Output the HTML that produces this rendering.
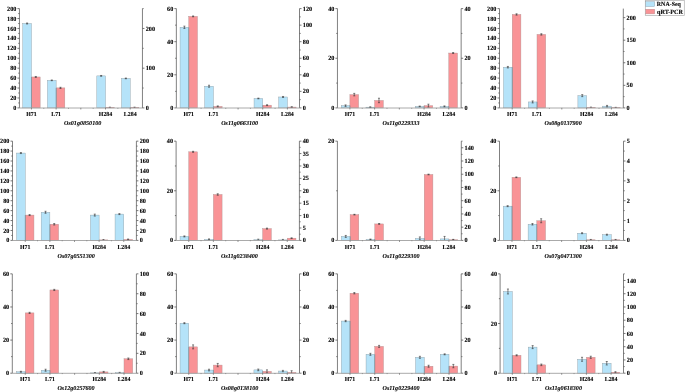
<!DOCTYPE html>
<html><head><meta charset="utf-8"><style>
html,body{margin:0;padding:0;background:#fff;}
body{width:685px;height:392px;overflow:hidden;}
svg{display:block;will-change:transform;}
text{font-family:"Liberation Serif",serif;font-weight:bold;text-rendering:geometricPrecision;}
.t{fill:#000;stroke:#000;stroke-width:0.1px;}
.g{font-style:italic;fill:#000;stroke:#000;stroke-width:0.09px;}
.lg{fill:#000;stroke:#000;stroke-width:0.1px;}
</style></head><body>
<svg width="685" height="392" viewBox="0 0 685 392">
<rect width="685" height="392" fill="#fff"/>

<rect x="31.45" y="76.96" width="8.70" height="30.94" fill="#f99396" stroke="#b09090" stroke-width="0.4"/>
<rect x="22.75" y="23.50" width="8.70" height="84.41" fill="#b5e3f9" stroke="#8a9aa2" stroke-width="0.4"/>
<path d="M31.45 76.96V107.90" stroke="#6a7880" stroke-width="0.5"/>
<rect x="56.14" y="87.88" width="8.70" height="20.02" fill="#f99396" stroke="#b09090" stroke-width="0.4"/>
<rect x="47.44" y="80.34" width="8.70" height="27.56" fill="#b5e3f9" stroke="#8a9aa2" stroke-width="0.4"/>
<path d="M56.14 87.88V107.90" stroke="#6a7880" stroke-width="0.5"/>
<rect x="105.51" y="107.50" width="8.70" height="0.40" fill="#f99396" stroke="#b09090" stroke-width="0.4"/>
<rect x="96.81" y="75.88" width="8.70" height="32.02" fill="#b5e3f9" stroke="#8a9aa2" stroke-width="0.4"/>
<path d="M105.51 107.50V107.90" stroke="#6a7880" stroke-width="0.5"/>
<rect x="130.20" y="107.50" width="8.70" height="0.40" fill="#f99396" stroke="#b09090" stroke-width="0.4"/>
<rect x="121.50" y="78.41" width="8.70" height="29.49" fill="#b5e3f9" stroke="#8a9aa2" stroke-width="0.4"/>
<path d="M130.20 107.50V107.90" stroke="#6a7880" stroke-width="0.5"/>
<path d="M26.10 23.00H28.10M26.10 23.99H28.10M27.10 23.00V23.99" stroke="#333" stroke-width="0.6" fill="none"/>
<path d="M34.80 76.48H36.80M34.80 77.43H36.80M35.80 76.48V77.43" stroke="#333" stroke-width="0.6" fill="none"/>
<path d="M50.79 79.99H52.79M50.79 80.69H52.79M51.79 79.99V80.69" stroke="#333" stroke-width="0.6" fill="none"/>
<path d="M59.49 87.29H61.49M59.49 88.48H61.49M60.49 87.29V88.48" stroke="#333" stroke-width="0.6" fill="none"/>
<path d="M100.16 75.48H102.16M100.16 76.27H102.16M101.16 75.48V76.27" stroke="#333" stroke-width="0.6" fill="none"/>
<path d="M108.86 107.15H110.86M109.86 107.15V107.90" stroke="#333" stroke-width="0.6" fill="none"/>
<path d="M124.85 78.06H126.85M124.85 78.76H126.85M125.85 78.06V78.76" stroke="#333" stroke-width="0.6" fill="none"/>
<path d="M133.55 107.15H135.55M134.55 107.15V107.90" stroke="#333" stroke-width="0.6" fill="none"/>
<path d="M19.45 8.60V107.90" stroke="#555" stroke-width="0.75" fill="none"/>
<path d="M142.45 8.60V107.90" stroke="#555" stroke-width="0.75" fill="none"/>
<path d="M19.45 108.00H142.45" stroke="#a0a0a0" stroke-width="0.9" fill="none"/>
<path d="M17.45 107.90H19.45" stroke="#555" stroke-width="0.8"/>
<text class="t" transform="translate(16.35 109.95) scale(1 1.04)" font-size="6.2" text-anchor="end">0</text>
<path d="M18.25 102.94H19.45" stroke="#555" stroke-width="0.8"/>
<path d="M17.45 97.97H19.45" stroke="#555" stroke-width="0.8"/>
<text class="t" transform="translate(16.35 100.02) scale(1 1.04)" font-size="6.2" text-anchor="end">20</text>
<path d="M18.25 93.01H19.45" stroke="#555" stroke-width="0.8"/>
<path d="M17.45 88.04H19.45" stroke="#555" stroke-width="0.8"/>
<text class="t" transform="translate(16.35 90.09) scale(1 1.04)" font-size="6.2" text-anchor="end">40</text>
<path d="M18.25 83.08H19.45" stroke="#555" stroke-width="0.8"/>
<path d="M17.45 78.11H19.45" stroke="#555" stroke-width="0.8"/>
<text class="t" transform="translate(16.35 80.16) scale(1 1.04)" font-size="6.2" text-anchor="end">60</text>
<path d="M18.25 73.15H19.45" stroke="#555" stroke-width="0.8"/>
<path d="M17.45 68.18H19.45" stroke="#555" stroke-width="0.8"/>
<text class="t" transform="translate(16.35 70.23) scale(1 1.04)" font-size="6.2" text-anchor="end">80</text>
<path d="M18.25 63.21H19.45" stroke="#555" stroke-width="0.8"/>
<path d="M17.45 58.25H19.45" stroke="#555" stroke-width="0.8"/>
<text class="t" transform="translate(16.35 60.30) scale(1 1.04)" font-size="6.2" text-anchor="end">100</text>
<path d="M18.25 53.28H19.45" stroke="#555" stroke-width="0.8"/>
<path d="M17.45 48.32H19.45" stroke="#555" stroke-width="0.8"/>
<text class="t" transform="translate(16.35 50.37) scale(1 1.04)" font-size="6.2" text-anchor="end">120</text>
<path d="M18.25 43.35H19.45" stroke="#555" stroke-width="0.8"/>
<path d="M17.45 38.39H19.45" stroke="#555" stroke-width="0.8"/>
<text class="t" transform="translate(16.35 40.44) scale(1 1.04)" font-size="6.2" text-anchor="end">140</text>
<path d="M18.25 33.42H19.45" stroke="#555" stroke-width="0.8"/>
<path d="M17.45 28.46H19.45" stroke="#555" stroke-width="0.8"/>
<text class="t" transform="translate(16.35 30.51) scale(1 1.04)" font-size="6.2" text-anchor="end">160</text>
<path d="M18.25 23.50H19.45" stroke="#555" stroke-width="0.8"/>
<path d="M17.45 18.53H19.45" stroke="#555" stroke-width="0.8"/>
<text class="t" transform="translate(16.35 20.58) scale(1 1.04)" font-size="6.2" text-anchor="end">180</text>
<path d="M18.25 13.56H19.45" stroke="#555" stroke-width="0.8"/>
<path d="M17.45 8.60H19.45" stroke="#555" stroke-width="0.8"/>
<text class="t" transform="translate(16.35 10.65) scale(1 1.04)" font-size="6.2" text-anchor="end">200</text>
<path d="M142.45 107.90H144.45" stroke="#555" stroke-width="0.8"/>
<text class="t" transform="translate(145.75 109.95) scale(1 1.04)" font-size="6.2">0</text>
<path d="M142.45 88.04H143.65" stroke="#555" stroke-width="0.8"/>
<path d="M142.45 68.18H144.45" stroke="#555" stroke-width="0.8"/>
<text class="t" transform="translate(145.75 70.23) scale(1 1.04)" font-size="6.2">100</text>
<path d="M142.45 48.32H143.65" stroke="#555" stroke-width="0.8"/>
<path d="M142.45 28.46H144.45" stroke="#555" stroke-width="0.8"/>
<text class="t" transform="translate(145.75 30.51) scale(1 1.04)" font-size="6.2">200</text>
<path d="M142.45 8.60H143.65" stroke="#555" stroke-width="0.8"/>
<path d="M31.45 107.90V109.50" stroke="#555" stroke-width="0.6"/>
<path d="M56.14 107.90V109.50" stroke="#555" stroke-width="0.6"/>
<path d="M80.82 107.90V109.50" stroke="#555" stroke-width="0.6"/>
<path d="M105.51 107.90V109.50" stroke="#555" stroke-width="0.6"/>
<path d="M130.20 107.90V109.50" stroke="#555" stroke-width="0.6"/>
<path d="M43.79 107.90V108.80" stroke="#555" stroke-width="0.5"/>
<path d="M68.48 107.90V108.80" stroke="#555" stroke-width="0.5"/>
<path d="M93.17 107.90V108.80" stroke="#555" stroke-width="0.5"/>
<path d="M117.86 107.90V108.80" stroke="#555" stroke-width="0.5"/>
<text class="t" transform="translate(31.45 116.10) scale(1 1.04)" font-size="5.9" text-anchor="middle">H71</text>
<text class="t" transform="translate(56.14 116.10) scale(1 1.04)" font-size="5.9" text-anchor="middle">L71</text>
<text class="t" transform="translate(105.51 116.10) scale(1 1.04)" font-size="5.9" text-anchor="middle">H284</text>
<text class="t" transform="translate(130.20 116.10) scale(1 1.04)" font-size="5.9" text-anchor="middle">L284</text>
<text class="g" transform="translate(82.65 125.10) scale(1 1.0)" font-size="6.1" text-anchor="middle">Os01g0850100</text>
<rect x="188.75" y="16.38" width="8.70" height="91.52" fill="#f99396" stroke="#b09090" stroke-width="0.4"/>
<rect x="180.05" y="27.30" width="8.70" height="80.60" fill="#b5e3f9" stroke="#8a9aa2" stroke-width="0.4"/>
<path d="M188.75 27.30V107.90" stroke="#6a7880" stroke-width="0.5"/>
<rect x="213.41" y="106.41" width="8.70" height="1.49" fill="#f99396" stroke="#b09090" stroke-width="0.4"/>
<rect x="204.71" y="86.22" width="8.70" height="21.68" fill="#b5e3f9" stroke="#8a9aa2" stroke-width="0.4"/>
<path d="M213.41 106.41V107.90" stroke="#6a7880" stroke-width="0.5"/>
<rect x="262.74" y="105.17" width="8.70" height="2.73" fill="#f99396" stroke="#b09090" stroke-width="0.4"/>
<rect x="254.04" y="98.47" width="8.70" height="9.43" fill="#b5e3f9" stroke="#8a9aa2" stroke-width="0.4"/>
<path d="M262.74 105.17V107.90" stroke="#6a7880" stroke-width="0.5"/>
<rect x="287.40" y="107.07" width="8.70" height="0.83" fill="#f99396" stroke="#b09090" stroke-width="0.4"/>
<rect x="278.70" y="96.98" width="8.70" height="10.92" fill="#b5e3f9" stroke="#8a9aa2" stroke-width="0.4"/>
<path d="M287.40 107.07V107.90" stroke="#6a7880" stroke-width="0.5"/>
<path d="M183.40 26.14H185.40M183.40 28.46H185.40M184.40 26.14V28.46" stroke="#333" stroke-width="0.6" fill="none"/>
<path d="M192.10 15.96H194.10M192.10 16.79H194.10M193.10 15.96V16.79" stroke="#333" stroke-width="0.6" fill="none"/>
<path d="M208.06 85.23H210.06M208.06 87.21H210.06M209.06 85.23V87.21" stroke="#333" stroke-width="0.6" fill="none"/>
<path d="M216.76 105.91H218.76M216.76 106.91H218.76M217.76 105.91V106.91" stroke="#333" stroke-width="0.6" fill="none"/>
<path d="M257.39 98.12H259.39M257.39 98.82H259.39M258.39 98.12V98.82" stroke="#333" stroke-width="0.6" fill="none"/>
<path d="M266.09 104.76H268.09M266.09 105.58H268.09M267.09 104.76V105.58" stroke="#333" stroke-width="0.6" fill="none"/>
<path d="M282.05 96.48H284.05M282.05 97.47H284.05M283.05 96.48V97.47" stroke="#333" stroke-width="0.6" fill="none"/>
<path d="M290.75 106.72H292.75M290.75 107.42H292.75M291.75 106.72V107.42" stroke="#333" stroke-width="0.6" fill="none"/>
<path d="M176.35 8.60V107.90" stroke="#555" stroke-width="0.75" fill="none"/>
<path d="M299.50 8.60V107.90" stroke="#555" stroke-width="0.75" fill="none"/>
<path d="M176.35 108.00H299.50" stroke="#a0a0a0" stroke-width="0.9" fill="none"/>
<path d="M174.35 107.90H176.35" stroke="#555" stroke-width="0.8"/>
<text class="t" transform="translate(173.25 109.95) scale(1 1.04)" font-size="6.2" text-anchor="end">0</text>
<path d="M175.15 91.35H176.35" stroke="#555" stroke-width="0.8"/>
<path d="M174.35 74.80H176.35" stroke="#555" stroke-width="0.8"/>
<text class="t" transform="translate(173.25 76.85) scale(1 1.04)" font-size="6.2" text-anchor="end">20</text>
<path d="M175.15 58.25H176.35" stroke="#555" stroke-width="0.8"/>
<path d="M174.35 41.70H176.35" stroke="#555" stroke-width="0.8"/>
<text class="t" transform="translate(173.25 43.75) scale(1 1.04)" font-size="6.2" text-anchor="end">40</text>
<path d="M175.15 25.15H176.35" stroke="#555" stroke-width="0.8"/>
<path d="M174.35 8.60H176.35" stroke="#555" stroke-width="0.8"/>
<text class="t" transform="translate(173.25 10.65) scale(1 1.04)" font-size="6.2" text-anchor="end">60</text>
<path d="M299.50 107.90H301.50" stroke="#555" stroke-width="0.8"/>
<text class="t" transform="translate(302.80 109.95) scale(1 1.04)" font-size="6.2">0</text>
<path d="M299.50 99.62H300.70" stroke="#555" stroke-width="0.8"/>
<path d="M299.50 91.35H301.50" stroke="#555" stroke-width="0.8"/>
<text class="t" transform="translate(302.80 93.40) scale(1 1.04)" font-size="6.2">20</text>
<path d="M299.50 83.08H300.70" stroke="#555" stroke-width="0.8"/>
<path d="M299.50 74.80H301.50" stroke="#555" stroke-width="0.8"/>
<text class="t" transform="translate(302.80 76.85) scale(1 1.04)" font-size="6.2">40</text>
<path d="M299.50 66.53H300.70" stroke="#555" stroke-width="0.8"/>
<path d="M299.50 58.25H301.50" stroke="#555" stroke-width="0.8"/>
<text class="t" transform="translate(302.80 60.30) scale(1 1.04)" font-size="6.2">60</text>
<path d="M299.50 49.97H300.70" stroke="#555" stroke-width="0.8"/>
<path d="M299.50 41.70H301.50" stroke="#555" stroke-width="0.8"/>
<text class="t" transform="translate(302.80 43.75) scale(1 1.04)" font-size="6.2">80</text>
<path d="M299.50 33.42H300.70" stroke="#555" stroke-width="0.8"/>
<path d="M299.50 25.15H301.50" stroke="#555" stroke-width="0.8"/>
<text class="t" transform="translate(302.80 27.20) scale(1 1.04)" font-size="6.2">100</text>
<path d="M299.50 16.88H300.70" stroke="#555" stroke-width="0.8"/>
<path d="M299.50 8.60H301.50" stroke="#555" stroke-width="0.8"/>
<text class="t" transform="translate(302.80 10.65) scale(1 1.04)" font-size="6.2">120</text>
<path d="M188.75 107.90V109.50" stroke="#555" stroke-width="0.6"/>
<path d="M213.41 107.90V109.50" stroke="#555" stroke-width="0.6"/>
<path d="M238.07 107.90V109.50" stroke="#555" stroke-width="0.6"/>
<path d="M262.74 107.90V109.50" stroke="#555" stroke-width="0.6"/>
<path d="M287.40 107.90V109.50" stroke="#555" stroke-width="0.6"/>
<path d="M201.08 107.90V108.80" stroke="#555" stroke-width="0.5"/>
<path d="M225.74 107.90V108.80" stroke="#555" stroke-width="0.5"/>
<path d="M250.41 107.90V108.80" stroke="#555" stroke-width="0.5"/>
<path d="M275.07 107.90V108.80" stroke="#555" stroke-width="0.5"/>
<text class="t" transform="translate(188.75 116.10) scale(1 1.04)" font-size="5.9" text-anchor="middle">H71</text>
<text class="t" transform="translate(213.41 116.10) scale(1 1.04)" font-size="5.9" text-anchor="middle">L71</text>
<text class="t" transform="translate(262.74 116.10) scale(1 1.04)" font-size="5.9" text-anchor="middle">H284</text>
<text class="t" transform="translate(287.40 116.10) scale(1 1.04)" font-size="5.9" text-anchor="middle">L284</text>
<text class="g" transform="translate(239.62 125.10) scale(1 1.0)" font-size="6.1" text-anchor="middle">Os11g0663100</text>
<rect x="349.90" y="94.62" width="8.70" height="13.28" fill="#f99396" stroke="#b09090" stroke-width="0.4"/>
<rect x="341.20" y="105.67" width="8.70" height="2.23" fill="#b5e3f9" stroke="#8a9aa2" stroke-width="0.4"/>
<path d="M349.90 105.67V107.90" stroke="#6a7880" stroke-width="0.5"/>
<rect x="374.62" y="100.45" width="8.70" height="7.45" fill="#f99396" stroke="#b09090" stroke-width="0.4"/>
<rect x="365.93" y="107.16" width="8.70" height="0.74" fill="#b5e3f9" stroke="#8a9aa2" stroke-width="0.4"/>
<path d="M374.62 107.16V107.90" stroke="#6a7880" stroke-width="0.5"/>
<rect x="424.07" y="105.67" width="8.70" height="2.23" fill="#f99396" stroke="#b09090" stroke-width="0.4"/>
<rect x="415.38" y="106.41" width="8.70" height="1.49" fill="#b5e3f9" stroke="#8a9aa2" stroke-width="0.4"/>
<path d="M424.07 106.41V107.90" stroke="#6a7880" stroke-width="0.5"/>
<rect x="448.80" y="53.04" width="8.70" height="54.86" fill="#f99396" stroke="#b09090" stroke-width="0.4"/>
<rect x="440.10" y="106.41" width="8.70" height="1.49" fill="#b5e3f9" stroke="#8a9aa2" stroke-width="0.4"/>
<path d="M448.80 106.41V107.90" stroke="#6a7880" stroke-width="0.5"/>
<path d="M344.55 104.92H346.55M344.55 106.41H346.55M345.55 104.92V106.41" stroke="#333" stroke-width="0.6" fill="none"/>
<path d="M353.25 93.38H355.25M353.25 95.86H355.25M354.25 93.38V95.86" stroke="#333" stroke-width="0.6" fill="none"/>
<path d="M369.27 106.81H371.27M369.27 107.51H371.27M370.27 106.81V107.51" stroke="#333" stroke-width="0.6" fill="none"/>
<path d="M377.98 98.22H379.98M377.98 102.69H379.98M378.98 98.22V102.69" stroke="#333" stroke-width="0.6" fill="none"/>
<path d="M418.72 106.06H420.72M418.72 106.76H420.72M419.72 106.06V106.76" stroke="#333" stroke-width="0.6" fill="none"/>
<path d="M427.43 104.18H429.43M427.43 107.16H429.43M428.43 104.18V107.16" stroke="#333" stroke-width="0.6" fill="none"/>
<path d="M443.45 105.91H445.45M443.45 106.91H445.45M444.45 105.91V106.91" stroke="#333" stroke-width="0.6" fill="none"/>
<path d="M452.15 52.54H454.15M452.15 53.53H454.15M453.15 52.54V53.53" stroke="#333" stroke-width="0.6" fill="none"/>
<path d="M337.45 8.60V107.90" stroke="#555" stroke-width="0.75" fill="none"/>
<path d="M461.15 8.60V107.90" stroke="#555" stroke-width="0.75" fill="none"/>
<path d="M337.45 108.00H461.15" stroke="#a0a0a0" stroke-width="0.9" fill="none"/>
<path d="M335.45 107.90H337.45" stroke="#555" stroke-width="0.8"/>
<text class="t" transform="translate(334.35 109.95) scale(1 1.04)" font-size="6.2" text-anchor="end">0</text>
<path d="M336.25 83.08H337.45" stroke="#555" stroke-width="0.8"/>
<path d="M335.45 58.25H337.45" stroke="#555" stroke-width="0.8"/>
<text class="t" transform="translate(334.35 60.30) scale(1 1.04)" font-size="6.2" text-anchor="end">20</text>
<path d="M336.25 33.42H337.45" stroke="#555" stroke-width="0.8"/>
<path d="M335.45 8.60H337.45" stroke="#555" stroke-width="0.8"/>
<text class="t" transform="translate(334.35 10.65) scale(1 1.04)" font-size="6.2" text-anchor="end">40</text>
<path d="M461.15 107.90H463.15" stroke="#555" stroke-width="0.8"/>
<text class="t" transform="translate(464.45 109.95) scale(1 1.04)" font-size="6.2">0</text>
<path d="M461.15 83.08H462.35" stroke="#555" stroke-width="0.8"/>
<path d="M461.15 58.25H463.15" stroke="#555" stroke-width="0.8"/>
<text class="t" transform="translate(464.45 60.30) scale(1 1.04)" font-size="6.2">20</text>
<path d="M461.15 33.42H462.35" stroke="#555" stroke-width="0.8"/>
<path d="M461.15 8.60H463.15" stroke="#555" stroke-width="0.8"/>
<text class="t" transform="translate(464.45 10.65) scale(1 1.04)" font-size="6.2">40</text>
<path d="M349.90 107.90V109.50" stroke="#555" stroke-width="0.6"/>
<path d="M374.62 107.90V109.50" stroke="#555" stroke-width="0.6"/>
<path d="M399.35 107.90V109.50" stroke="#555" stroke-width="0.6"/>
<path d="M424.07 107.90V109.50" stroke="#555" stroke-width="0.6"/>
<path d="M448.80 107.90V109.50" stroke="#555" stroke-width="0.6"/>
<path d="M362.26 107.90V108.80" stroke="#555" stroke-width="0.5"/>
<path d="M386.99 107.90V108.80" stroke="#555" stroke-width="0.5"/>
<path d="M411.71 107.90V108.80" stroke="#555" stroke-width="0.5"/>
<path d="M436.44 107.90V108.80" stroke="#555" stroke-width="0.5"/>
<text class="t" transform="translate(349.90 116.10) scale(1 1.04)" font-size="5.9" text-anchor="middle">H71</text>
<text class="t" transform="translate(374.62 116.10) scale(1 1.04)" font-size="5.9" text-anchor="middle">L71</text>
<text class="t" transform="translate(424.07 116.10) scale(1 1.04)" font-size="5.9" text-anchor="middle">H284</text>
<text class="t" transform="translate(448.80 116.10) scale(1 1.04)" font-size="5.9" text-anchor="middle">L284</text>
<text class="g" transform="translate(401.00 125.10) scale(1 1.0)" font-size="6.1" text-anchor="middle">Os11g0229333</text>
<rect x="512.20" y="14.47" width="8.70" height="93.43" fill="#f99396" stroke="#b09090" stroke-width="0.4"/>
<rect x="503.50" y="67.19" width="8.70" height="40.71" fill="#b5e3f9" stroke="#8a9aa2" stroke-width="0.4"/>
<path d="M512.20 67.19V107.90" stroke="#6a7880" stroke-width="0.5"/>
<rect x="537.00" y="34.42" width="8.70" height="73.48" fill="#f99396" stroke="#b09090" stroke-width="0.4"/>
<rect x="528.30" y="101.94" width="8.70" height="5.96" fill="#b5e3f9" stroke="#8a9aa2" stroke-width="0.4"/>
<path d="M537.00 101.94V107.90" stroke="#6a7880" stroke-width="0.5"/>
<rect x="586.60" y="107.45" width="8.70" height="0.45" fill="#f99396" stroke="#b09090" stroke-width="0.4"/>
<rect x="577.90" y="95.64" width="8.70" height="12.26" fill="#b5e3f9" stroke="#8a9aa2" stroke-width="0.4"/>
<path d="M586.60 107.45V107.90" stroke="#6a7880" stroke-width="0.5"/>
<rect x="611.40" y="107.67" width="8.70" height="0.23" fill="#f99396" stroke="#b09090" stroke-width="0.4"/>
<rect x="602.70" y="106.16" width="8.70" height="1.74" fill="#b5e3f9" stroke="#8a9aa2" stroke-width="0.4"/>
<path d="M611.40 107.67V107.90" stroke="#6a7880" stroke-width="0.5"/>
<path d="M506.85 66.44H508.85M506.85 67.93H508.85M507.85 66.44V67.93" stroke="#333" stroke-width="0.6" fill="none"/>
<path d="M515.55 13.79H517.55M515.55 15.14H517.55M516.55 13.79V15.14" stroke="#333" stroke-width="0.6" fill="none"/>
<path d="M531.65 100.95H533.65M531.65 102.94H533.65M532.65 100.95V102.94" stroke="#333" stroke-width="0.6" fill="none"/>
<path d="M540.35 33.74H542.35M540.35 35.10H542.35M541.35 33.74V35.10" stroke="#333" stroke-width="0.6" fill="none"/>
<path d="M581.25 94.64H583.25M581.25 96.63H583.25M582.25 94.64V96.63" stroke="#333" stroke-width="0.6" fill="none"/>
<path d="M589.95 107.10H591.95M590.95 107.10V107.90" stroke="#333" stroke-width="0.6" fill="none"/>
<path d="M606.05 105.42H608.05M606.05 106.91H608.05M607.05 105.42V106.91" stroke="#333" stroke-width="0.6" fill="none"/>
<path d="M614.75 107.32H616.75M615.75 107.32V107.90" stroke="#333" stroke-width="0.6" fill="none"/>
<path d="M499.50 8.60V107.90" stroke="#555" stroke-width="0.75" fill="none"/>
<path d="M623.30 8.60V107.90" stroke="#555" stroke-width="0.75" fill="none"/>
<path d="M499.50 108.00H623.30" stroke="#a0a0a0" stroke-width="0.9" fill="none"/>
<path d="M497.50 107.90H499.50" stroke="#555" stroke-width="0.8"/>
<text class="t" transform="translate(496.40 109.95) scale(1 1.04)" font-size="6.2" text-anchor="end">0</text>
<path d="M498.30 102.94H499.50" stroke="#555" stroke-width="0.8"/>
<path d="M497.50 97.97H499.50" stroke="#555" stroke-width="0.8"/>
<text class="t" transform="translate(496.40 100.02) scale(1 1.04)" font-size="6.2" text-anchor="end">20</text>
<path d="M498.30 93.01H499.50" stroke="#555" stroke-width="0.8"/>
<path d="M497.50 88.04H499.50" stroke="#555" stroke-width="0.8"/>
<text class="t" transform="translate(496.40 90.09) scale(1 1.04)" font-size="6.2" text-anchor="end">40</text>
<path d="M498.30 83.08H499.50" stroke="#555" stroke-width="0.8"/>
<path d="M497.50 78.11H499.50" stroke="#555" stroke-width="0.8"/>
<text class="t" transform="translate(496.40 80.16) scale(1 1.04)" font-size="6.2" text-anchor="end">60</text>
<path d="M498.30 73.15H499.50" stroke="#555" stroke-width="0.8"/>
<path d="M497.50 68.18H499.50" stroke="#555" stroke-width="0.8"/>
<text class="t" transform="translate(496.40 70.23) scale(1 1.04)" font-size="6.2" text-anchor="end">80</text>
<path d="M498.30 63.21H499.50" stroke="#555" stroke-width="0.8"/>
<path d="M497.50 58.25H499.50" stroke="#555" stroke-width="0.8"/>
<text class="t" transform="translate(496.40 60.30) scale(1 1.04)" font-size="6.2" text-anchor="end">100</text>
<path d="M498.30 53.28H499.50" stroke="#555" stroke-width="0.8"/>
<path d="M497.50 48.32H499.50" stroke="#555" stroke-width="0.8"/>
<text class="t" transform="translate(496.40 50.37) scale(1 1.04)" font-size="6.2" text-anchor="end">120</text>
<path d="M498.30 43.35H499.50" stroke="#555" stroke-width="0.8"/>
<path d="M497.50 38.39H499.50" stroke="#555" stroke-width="0.8"/>
<text class="t" transform="translate(496.40 40.44) scale(1 1.04)" font-size="6.2" text-anchor="end">140</text>
<path d="M498.30 33.42H499.50" stroke="#555" stroke-width="0.8"/>
<path d="M497.50 28.46H499.50" stroke="#555" stroke-width="0.8"/>
<text class="t" transform="translate(496.40 30.51) scale(1 1.04)" font-size="6.2" text-anchor="end">160</text>
<path d="M498.30 23.50H499.50" stroke="#555" stroke-width="0.8"/>
<path d="M497.50 18.53H499.50" stroke="#555" stroke-width="0.8"/>
<text class="t" transform="translate(496.40 20.58) scale(1 1.04)" font-size="6.2" text-anchor="end">180</text>
<path d="M498.30 13.56H499.50" stroke="#555" stroke-width="0.8"/>
<path d="M497.50 8.60H499.50" stroke="#555" stroke-width="0.8"/>
<text class="t" transform="translate(496.40 10.65) scale(1 1.04)" font-size="6.2" text-anchor="end">200</text>
<path d="M623.30 107.90H625.30" stroke="#555" stroke-width="0.8"/>
<text class="t" transform="translate(626.60 109.95) scale(1 1.04)" font-size="6.2">0</text>
<path d="M623.30 96.62H624.50" stroke="#555" stroke-width="0.8"/>
<path d="M623.30 85.33H625.30" stroke="#555" stroke-width="0.8"/>
<text class="t" transform="translate(626.60 87.38) scale(1 1.04)" font-size="6.2">50</text>
<path d="M623.30 74.05H624.50" stroke="#555" stroke-width="0.8"/>
<path d="M623.30 62.76H625.30" stroke="#555" stroke-width="0.8"/>
<text class="t" transform="translate(626.60 64.81) scale(1 1.04)" font-size="6.2">100</text>
<path d="M623.30 51.48H624.50" stroke="#555" stroke-width="0.8"/>
<path d="M623.30 40.20H625.30" stroke="#555" stroke-width="0.8"/>
<text class="t" transform="translate(626.60 42.25) scale(1 1.04)" font-size="6.2">150</text>
<path d="M623.30 28.91H624.50" stroke="#555" stroke-width="0.8"/>
<path d="M623.30 17.63H625.30" stroke="#555" stroke-width="0.8"/>
<text class="t" transform="translate(626.60 19.68) scale(1 1.04)" font-size="6.2">200</text>
<path d="M512.20 107.90V109.50" stroke="#555" stroke-width="0.6"/>
<path d="M537.00 107.90V109.50" stroke="#555" stroke-width="0.6"/>
<path d="M561.80 107.90V109.50" stroke="#555" stroke-width="0.6"/>
<path d="M586.60 107.90V109.50" stroke="#555" stroke-width="0.6"/>
<path d="M611.40 107.90V109.50" stroke="#555" stroke-width="0.6"/>
<path d="M524.60 107.90V108.80" stroke="#555" stroke-width="0.5"/>
<path d="M549.40 107.90V108.80" stroke="#555" stroke-width="0.5"/>
<path d="M574.20 107.90V108.80" stroke="#555" stroke-width="0.5"/>
<path d="M599.00 107.90V108.80" stroke="#555" stroke-width="0.5"/>
<text class="t" transform="translate(512.20 116.10) scale(1 1.04)" font-size="5.9" text-anchor="middle">H71</text>
<text class="t" transform="translate(537.00 116.10) scale(1 1.04)" font-size="5.9" text-anchor="middle">L71</text>
<text class="t" transform="translate(586.60 116.10) scale(1 1.04)" font-size="5.9" text-anchor="middle">H284</text>
<text class="t" transform="translate(611.40 116.10) scale(1 1.04)" font-size="5.9" text-anchor="middle">L284</text>
<text class="g" transform="translate(563.10 125.10) scale(1 1.0)" font-size="6.1" text-anchor="middle">Os08g0137900</text>
<rect x="25.25" y="215.09" width="8.70" height="25.31" fill="#f99396" stroke="#b09090" stroke-width="0.4"/>
<rect x="16.55" y="153.06" width="8.70" height="87.34" fill="#b5e3f9" stroke="#8a9aa2" stroke-width="0.4"/>
<path d="M25.25 215.09V240.40" stroke="#6a7880" stroke-width="0.5"/>
<rect x="49.88" y="224.27" width="8.70" height="16.13" fill="#f99396" stroke="#b09090" stroke-width="0.4"/>
<rect x="41.17" y="212.26" width="8.70" height="28.14" fill="#b5e3f9" stroke="#8a9aa2" stroke-width="0.4"/>
<path d="M49.88 224.27V240.40" stroke="#6a7880" stroke-width="0.5"/>
<rect x="99.12" y="239.90" width="8.70" height="0.50" fill="#f99396" stroke="#b09090" stroke-width="0.4"/>
<rect x="90.42" y="215.09" width="8.70" height="25.31" fill="#b5e3f9" stroke="#8a9aa2" stroke-width="0.4"/>
<path d="M99.12 239.90V240.40" stroke="#6a7880" stroke-width="0.5"/>
<rect x="123.75" y="239.41" width="8.70" height="0.99" fill="#f99396" stroke="#b09090" stroke-width="0.4"/>
<rect x="115.05" y="214.10" width="8.70" height="26.30" fill="#b5e3f9" stroke="#8a9aa2" stroke-width="0.4"/>
<path d="M123.75 239.41V240.40" stroke="#6a7880" stroke-width="0.5"/>
<path d="M19.90 152.56H21.90M19.90 153.56H21.90M20.90 152.56V153.56" stroke="#333" stroke-width="0.6" fill="none"/>
<path d="M28.60 214.59H30.60M28.60 215.59H30.60M29.60 214.59V215.59" stroke="#333" stroke-width="0.6" fill="none"/>
<path d="M44.52 211.27H46.52M44.52 213.26H46.52M45.52 211.27V213.26" stroke="#333" stroke-width="0.6" fill="none"/>
<path d="M53.23 223.53H55.23M53.23 225.02H55.23M54.23 223.53V225.02" stroke="#333" stroke-width="0.6" fill="none"/>
<path d="M93.78 214.10H95.78M93.78 216.08H95.78M94.78 214.10V216.08" stroke="#333" stroke-width="0.6" fill="none"/>
<path d="M102.47 239.55H104.47M103.47 239.55V240.40" stroke="#333" stroke-width="0.6" fill="none"/>
<path d="M118.40 213.60H120.40M118.40 214.59H120.40M119.40 213.60V214.59" stroke="#333" stroke-width="0.6" fill="none"/>
<path d="M127.10 239.01H129.10M127.10 239.80H129.10M128.10 239.01V239.80" stroke="#333" stroke-width="0.6" fill="none"/>
<path d="M12.50 141.15V240.40" stroke="#555" stroke-width="0.75" fill="none"/>
<path d="M136.40 141.15V240.40" stroke="#555" stroke-width="0.75" fill="none"/>
<path d="M12.50 240.50H136.40" stroke="#a0a0a0" stroke-width="0.9" fill="none"/>
<path d="M10.50 240.40H12.50" stroke="#555" stroke-width="0.8"/>
<text class="t" transform="translate(9.40 242.45) scale(1 1.04)" font-size="6.2" text-anchor="end">0</text>
<path d="M11.30 235.44H12.50" stroke="#555" stroke-width="0.8"/>
<path d="M10.50 230.47H12.50" stroke="#555" stroke-width="0.8"/>
<text class="t" transform="translate(9.40 232.53) scale(1 1.04)" font-size="6.2" text-anchor="end">20</text>
<path d="M11.30 225.51H12.50" stroke="#555" stroke-width="0.8"/>
<path d="M10.50 220.55H12.50" stroke="#555" stroke-width="0.8"/>
<text class="t" transform="translate(9.40 222.60) scale(1 1.04)" font-size="6.2" text-anchor="end">40</text>
<path d="M11.30 215.59H12.50" stroke="#555" stroke-width="0.8"/>
<path d="M10.50 210.62H12.50" stroke="#555" stroke-width="0.8"/>
<text class="t" transform="translate(9.40 212.68) scale(1 1.04)" font-size="6.2" text-anchor="end">60</text>
<path d="M11.30 205.66H12.50" stroke="#555" stroke-width="0.8"/>
<path d="M10.50 200.70H12.50" stroke="#555" stroke-width="0.8"/>
<text class="t" transform="translate(9.40 202.75) scale(1 1.04)" font-size="6.2" text-anchor="end">80</text>
<path d="M11.30 195.74H12.50" stroke="#555" stroke-width="0.8"/>
<path d="M10.50 190.78H12.50" stroke="#555" stroke-width="0.8"/>
<text class="t" transform="translate(9.40 192.83) scale(1 1.04)" font-size="6.2" text-anchor="end">100</text>
<path d="M11.30 185.81H12.50" stroke="#555" stroke-width="0.8"/>
<path d="M10.50 180.85H12.50" stroke="#555" stroke-width="0.8"/>
<text class="t" transform="translate(9.40 182.90) scale(1 1.04)" font-size="6.2" text-anchor="end">120</text>
<path d="M11.30 175.89H12.50" stroke="#555" stroke-width="0.8"/>
<path d="M10.50 170.93H12.50" stroke="#555" stroke-width="0.8"/>
<text class="t" transform="translate(9.40 172.98) scale(1 1.04)" font-size="6.2" text-anchor="end">140</text>
<path d="M11.30 165.96H12.50" stroke="#555" stroke-width="0.8"/>
<path d="M10.50 161.00H12.50" stroke="#555" stroke-width="0.8"/>
<text class="t" transform="translate(9.40 163.05) scale(1 1.04)" font-size="6.2" text-anchor="end">160</text>
<path d="M11.30 156.04H12.50" stroke="#555" stroke-width="0.8"/>
<path d="M10.50 151.07H12.50" stroke="#555" stroke-width="0.8"/>
<text class="t" transform="translate(9.40 153.12) scale(1 1.04)" font-size="6.2" text-anchor="end">180</text>
<path d="M11.30 146.11H12.50" stroke="#555" stroke-width="0.8"/>
<path d="M10.50 141.15H12.50" stroke="#555" stroke-width="0.8"/>
<text class="t" transform="translate(9.40 143.20) scale(1 1.04)" font-size="6.2" text-anchor="end">200</text>
<path d="M136.40 240.40H138.40" stroke="#555" stroke-width="0.8"/>
<text class="t" transform="translate(139.70 242.45) scale(1 1.04)" font-size="6.2">0</text>
<path d="M136.40 235.44H137.60" stroke="#555" stroke-width="0.8"/>
<path d="M136.40 230.47H138.40" stroke="#555" stroke-width="0.8"/>
<text class="t" transform="translate(139.70 232.53) scale(1 1.04)" font-size="6.2">20</text>
<path d="M136.40 225.51H137.60" stroke="#555" stroke-width="0.8"/>
<path d="M136.40 220.55H138.40" stroke="#555" stroke-width="0.8"/>
<text class="t" transform="translate(139.70 222.60) scale(1 1.04)" font-size="6.2">40</text>
<path d="M136.40 215.59H137.60" stroke="#555" stroke-width="0.8"/>
<path d="M136.40 210.62H138.40" stroke="#555" stroke-width="0.8"/>
<text class="t" transform="translate(139.70 212.68) scale(1 1.04)" font-size="6.2">60</text>
<path d="M136.40 205.66H137.60" stroke="#555" stroke-width="0.8"/>
<path d="M136.40 200.70H138.40" stroke="#555" stroke-width="0.8"/>
<text class="t" transform="translate(139.70 202.75) scale(1 1.04)" font-size="6.2">80</text>
<path d="M136.40 195.74H137.60" stroke="#555" stroke-width="0.8"/>
<path d="M136.40 190.78H138.40" stroke="#555" stroke-width="0.8"/>
<text class="t" transform="translate(139.70 192.83) scale(1 1.04)" font-size="6.2">100</text>
<path d="M136.40 185.81H137.60" stroke="#555" stroke-width="0.8"/>
<path d="M136.40 180.85H138.40" stroke="#555" stroke-width="0.8"/>
<text class="t" transform="translate(139.70 182.90) scale(1 1.04)" font-size="6.2">120</text>
<path d="M136.40 175.89H137.60" stroke="#555" stroke-width="0.8"/>
<path d="M136.40 170.93H138.40" stroke="#555" stroke-width="0.8"/>
<text class="t" transform="translate(139.70 172.98) scale(1 1.04)" font-size="6.2">140</text>
<path d="M136.40 165.96H137.60" stroke="#555" stroke-width="0.8"/>
<path d="M136.40 161.00H138.40" stroke="#555" stroke-width="0.8"/>
<text class="t" transform="translate(139.70 163.05) scale(1 1.04)" font-size="6.2">160</text>
<path d="M136.40 156.04H137.60" stroke="#555" stroke-width="0.8"/>
<path d="M136.40 151.07H138.40" stroke="#555" stroke-width="0.8"/>
<text class="t" transform="translate(139.70 153.12) scale(1 1.04)" font-size="6.2">180</text>
<path d="M136.40 146.11H137.60" stroke="#555" stroke-width="0.8"/>
<path d="M136.40 141.15H138.40" stroke="#555" stroke-width="0.8"/>
<text class="t" transform="translate(139.70 143.20) scale(1 1.04)" font-size="6.2">200</text>
<path d="M25.25 240.40V242.00" stroke="#555" stroke-width="0.6"/>
<path d="M49.88 240.40V242.00" stroke="#555" stroke-width="0.6"/>
<path d="M74.50 240.40V242.00" stroke="#555" stroke-width="0.6"/>
<path d="M99.12 240.40V242.00" stroke="#555" stroke-width="0.6"/>
<path d="M123.75 240.40V242.00" stroke="#555" stroke-width="0.6"/>
<path d="M37.56 240.40V241.30" stroke="#555" stroke-width="0.5"/>
<path d="M62.19 240.40V241.30" stroke="#555" stroke-width="0.5"/>
<path d="M86.81 240.40V241.30" stroke="#555" stroke-width="0.5"/>
<path d="M111.44 240.40V241.30" stroke="#555" stroke-width="0.5"/>
<text class="t" transform="translate(25.25 248.60) scale(1 1.04)" font-size="5.9" text-anchor="middle">H71</text>
<text class="t" transform="translate(49.88 248.60) scale(1 1.04)" font-size="5.9" text-anchor="middle">L71</text>
<text class="t" transform="translate(99.12 248.60) scale(1 1.04)" font-size="5.9" text-anchor="middle">H284</text>
<text class="t" transform="translate(123.75 248.60) scale(1 1.04)" font-size="5.9" text-anchor="middle">L284</text>
<text class="g" transform="translate(76.15 257.60) scale(1 1.0)" font-size="6.1" text-anchor="middle">Os07g0551300</text>
<rect x="188.75" y="151.82" width="8.70" height="88.58" fill="#f99396" stroke="#b09090" stroke-width="0.4"/>
<rect x="180.05" y="236.43" width="8.70" height="3.97" fill="#b5e3f9" stroke="#8a9aa2" stroke-width="0.4"/>
<path d="M188.75 236.43V240.40" stroke="#6a7880" stroke-width="0.5"/>
<rect x="213.38" y="194.50" width="8.70" height="45.90" fill="#f99396" stroke="#b09090" stroke-width="0.4"/>
<rect x="204.68" y="239.41" width="8.70" height="0.99" fill="#b5e3f9" stroke="#8a9aa2" stroke-width="0.4"/>
<path d="M213.38 239.41V240.40" stroke="#6a7880" stroke-width="0.5"/>
<rect x="262.62" y="228.61" width="8.70" height="11.79" fill="#f99396" stroke="#b09090" stroke-width="0.4"/>
<rect x="253.93" y="239.66" width="8.70" height="0.74" fill="#b5e3f9" stroke="#8a9aa2" stroke-width="0.4"/>
<path d="M262.62 239.66V240.40" stroke="#6a7880" stroke-width="0.5"/>
<rect x="287.25" y="238.17" width="8.70" height="2.23" fill="#f99396" stroke="#b09090" stroke-width="0.4"/>
<rect x="278.55" y="239.90" width="8.70" height="0.50" fill="#b5e3f9" stroke="#8a9aa2" stroke-width="0.4"/>
<path d="M287.25 239.90V240.40" stroke="#6a7880" stroke-width="0.5"/>
<path d="M183.40 235.93H185.40M183.40 236.93H185.40M184.40 235.93V236.93" stroke="#333" stroke-width="0.6" fill="none"/>
<path d="M192.10 151.32H194.10M192.10 152.32H194.10M193.10 151.32V152.32" stroke="#333" stroke-width="0.6" fill="none"/>
<path d="M208.03 238.91H210.03M208.03 239.90H210.03M209.03 238.91V239.90" stroke="#333" stroke-width="0.6" fill="none"/>
<path d="M216.72 193.75H218.72M216.72 195.24H218.72M217.72 193.75V195.24" stroke="#333" stroke-width="0.6" fill="none"/>
<path d="M257.27 239.16H259.27M258.27 239.16V240.40" stroke="#333" stroke-width="0.6" fill="none"/>
<path d="M265.98 228.12H267.98M265.98 229.11H267.98M266.98 228.12V229.11" stroke="#333" stroke-width="0.6" fill="none"/>
<path d="M281.90 239.41H283.90M282.90 239.41V240.40" stroke="#333" stroke-width="0.6" fill="none"/>
<path d="M290.60 237.82H292.60M290.60 238.52H292.60M291.60 237.82V238.52" stroke="#333" stroke-width="0.6" fill="none"/>
<path d="M176.10 141.15V240.40" stroke="#555" stroke-width="0.75" fill="none"/>
<path d="M299.40 141.15V240.40" stroke="#555" stroke-width="0.75" fill="none"/>
<path d="M176.10 240.50H299.40" stroke="#a0a0a0" stroke-width="0.9" fill="none"/>
<path d="M174.10 240.40H176.10" stroke="#555" stroke-width="0.8"/>
<text class="t" transform="translate(173.00 242.45) scale(1 1.04)" font-size="6.2" text-anchor="end">0</text>
<path d="M174.90 215.59H176.10" stroke="#555" stroke-width="0.8"/>
<path d="M174.10 190.78H176.10" stroke="#555" stroke-width="0.8"/>
<text class="t" transform="translate(173.00 192.83) scale(1 1.04)" font-size="6.2" text-anchor="end">20</text>
<path d="M174.90 165.96H176.10" stroke="#555" stroke-width="0.8"/>
<path d="M174.10 141.15H176.10" stroke="#555" stroke-width="0.8"/>
<text class="t" transform="translate(173.00 143.20) scale(1 1.04)" font-size="6.2" text-anchor="end">40</text>
<path d="M299.40 240.40H301.40" stroke="#555" stroke-width="0.8"/>
<text class="t" transform="translate(302.70 242.45) scale(1 1.04)" font-size="6.2">0</text>
<path d="M299.40 234.20H300.60" stroke="#555" stroke-width="0.8"/>
<path d="M299.40 227.99H301.40" stroke="#555" stroke-width="0.8"/>
<text class="t" transform="translate(302.70 230.04) scale(1 1.04)" font-size="6.2">5</text>
<path d="M299.40 221.79H300.60" stroke="#555" stroke-width="0.8"/>
<path d="M299.40 215.59H301.40" stroke="#555" stroke-width="0.8"/>
<text class="t" transform="translate(302.70 217.64) scale(1 1.04)" font-size="6.2">10</text>
<path d="M299.40 209.38H300.60" stroke="#555" stroke-width="0.8"/>
<path d="M299.40 203.18H301.40" stroke="#555" stroke-width="0.8"/>
<text class="t" transform="translate(302.70 205.23) scale(1 1.04)" font-size="6.2">15</text>
<path d="M299.40 196.98H300.60" stroke="#555" stroke-width="0.8"/>
<path d="M299.40 190.78H301.40" stroke="#555" stroke-width="0.8"/>
<text class="t" transform="translate(302.70 192.83) scale(1 1.04)" font-size="6.2">20</text>
<path d="M299.40 184.57H300.60" stroke="#555" stroke-width="0.8"/>
<path d="M299.40 178.37H301.40" stroke="#555" stroke-width="0.8"/>
<text class="t" transform="translate(302.70 180.42) scale(1 1.04)" font-size="6.2">25</text>
<path d="M299.40 172.17H300.60" stroke="#555" stroke-width="0.8"/>
<path d="M299.40 165.96H301.40" stroke="#555" stroke-width="0.8"/>
<text class="t" transform="translate(302.70 168.01) scale(1 1.04)" font-size="6.2">30</text>
<path d="M299.40 159.76H300.60" stroke="#555" stroke-width="0.8"/>
<path d="M299.40 153.56H301.40" stroke="#555" stroke-width="0.8"/>
<text class="t" transform="translate(302.70 155.61) scale(1 1.04)" font-size="6.2">35</text>
<path d="M299.40 147.35H300.60" stroke="#555" stroke-width="0.8"/>
<path d="M299.40 141.15H301.40" stroke="#555" stroke-width="0.8"/>
<text class="t" transform="translate(302.70 143.20) scale(1 1.04)" font-size="6.2">40</text>
<path d="M188.75 240.40V242.00" stroke="#555" stroke-width="0.6"/>
<path d="M213.38 240.40V242.00" stroke="#555" stroke-width="0.6"/>
<path d="M238.00 240.40V242.00" stroke="#555" stroke-width="0.6"/>
<path d="M262.62 240.40V242.00" stroke="#555" stroke-width="0.6"/>
<path d="M287.25 240.40V242.00" stroke="#555" stroke-width="0.6"/>
<path d="M201.06 240.40V241.30" stroke="#555" stroke-width="0.5"/>
<path d="M225.69 240.40V241.30" stroke="#555" stroke-width="0.5"/>
<path d="M250.31 240.40V241.30" stroke="#555" stroke-width="0.5"/>
<path d="M274.94 240.40V241.30" stroke="#555" stroke-width="0.5"/>
<text class="t" transform="translate(188.75 248.60) scale(1 1.04)" font-size="5.9" text-anchor="middle">H71</text>
<text class="t" transform="translate(213.38 248.60) scale(1 1.04)" font-size="5.9" text-anchor="middle">L71</text>
<text class="t" transform="translate(262.62 248.60) scale(1 1.04)" font-size="5.9" text-anchor="middle">H284</text>
<text class="t" transform="translate(287.25 248.60) scale(1 1.04)" font-size="5.9" text-anchor="middle">L284</text>
<text class="g" transform="translate(239.45 257.60) scale(1 1.0)" font-size="6.1" text-anchor="middle">Os11g0238400</text>
<rect x="350.10" y="214.66" width="8.70" height="25.74" fill="#f99396" stroke="#b09090" stroke-width="0.4"/>
<rect x="341.40" y="236.43" width="8.70" height="3.97" fill="#b5e3f9" stroke="#8a9aa2" stroke-width="0.4"/>
<path d="M350.10 236.43V240.40" stroke="#6a7880" stroke-width="0.5"/>
<rect x="374.80" y="223.92" width="8.70" height="16.48" fill="#f99396" stroke="#b09090" stroke-width="0.4"/>
<rect x="366.10" y="239.41" width="8.70" height="0.99" fill="#b5e3f9" stroke="#8a9aa2" stroke-width="0.4"/>
<path d="M374.80 239.41V240.40" stroke="#6a7880" stroke-width="0.5"/>
<rect x="424.20" y="174.50" width="8.70" height="65.90" fill="#f99396" stroke="#b09090" stroke-width="0.4"/>
<rect x="415.50" y="238.41" width="8.70" height="1.99" fill="#b5e3f9" stroke="#8a9aa2" stroke-width="0.4"/>
<path d="M424.20 238.41V240.40" stroke="#6a7880" stroke-width="0.5"/>
<rect x="448.90" y="239.74" width="8.70" height="0.66" fill="#f99396" stroke="#b09090" stroke-width="0.4"/>
<rect x="440.20" y="238.91" width="8.70" height="1.49" fill="#b5e3f9" stroke="#8a9aa2" stroke-width="0.4"/>
<path d="M448.90 239.74V240.40" stroke="#6a7880" stroke-width="0.5"/>
<path d="M344.75 235.44H346.75M344.75 237.42H346.75M345.75 235.44V237.42" stroke="#333" stroke-width="0.6" fill="none"/>
<path d="M353.45 214.31H355.45M353.45 215.01H355.45M354.45 214.31V215.01" stroke="#333" stroke-width="0.6" fill="none"/>
<path d="M369.45 239.06H371.45M369.45 239.76H371.45M370.45 239.06V239.76" stroke="#333" stroke-width="0.6" fill="none"/>
<path d="M378.15 223.53H380.15M378.15 224.32H380.15M379.15 223.53V224.32" stroke="#333" stroke-width="0.6" fill="none"/>
<path d="M418.85 236.93H420.85M418.85 239.90H420.85M419.85 236.93V239.90" stroke="#333" stroke-width="0.6" fill="none"/>
<path d="M427.55 174.15H429.55M427.55 174.85H429.55M428.55 174.15V174.85" stroke="#333" stroke-width="0.6" fill="none"/>
<path d="M443.55 236.43H445.55M444.55 236.43V240.40" stroke="#333" stroke-width="0.6" fill="none"/>
<path d="M452.25 239.39H454.25M452.25 240.09H454.25M453.25 239.39V240.09" stroke="#333" stroke-width="0.6" fill="none"/>
<path d="M337.40 141.15V240.40" stroke="#555" stroke-width="0.75" fill="none"/>
<path d="M461.30 141.15V240.40" stroke="#555" stroke-width="0.75" fill="none"/>
<path d="M337.40 240.50H461.30" stroke="#a0a0a0" stroke-width="0.9" fill="none"/>
<path d="M335.40 240.40H337.40" stroke="#555" stroke-width="0.8"/>
<text class="t" transform="translate(334.30 242.45) scale(1 1.04)" font-size="6.2" text-anchor="end">0</text>
<path d="M336.20 190.78H337.40" stroke="#555" stroke-width="0.8"/>
<path d="M335.40 141.15H337.40" stroke="#555" stroke-width="0.8"/>
<text class="t" transform="translate(334.30 143.20) scale(1 1.04)" font-size="6.2" text-anchor="end">20</text>
<path d="M461.30 240.40H463.30" stroke="#555" stroke-width="0.8"/>
<text class="t" transform="translate(464.60 242.45) scale(1 1.04)" font-size="6.2">0</text>
<path d="M461.30 233.78H462.50" stroke="#555" stroke-width="0.8"/>
<path d="M461.30 227.17H463.30" stroke="#555" stroke-width="0.8"/>
<text class="t" transform="translate(464.60 229.22) scale(1 1.04)" font-size="6.2">20</text>
<path d="M461.30 220.55H462.50" stroke="#555" stroke-width="0.8"/>
<path d="M461.30 213.93H463.30" stroke="#555" stroke-width="0.8"/>
<text class="t" transform="translate(464.60 215.98) scale(1 1.04)" font-size="6.2">40</text>
<path d="M461.30 207.32H462.50" stroke="#555" stroke-width="0.8"/>
<path d="M461.30 200.70H463.30" stroke="#555" stroke-width="0.8"/>
<text class="t" transform="translate(464.60 202.75) scale(1 1.04)" font-size="6.2">60</text>
<path d="M461.30 194.08H462.50" stroke="#555" stroke-width="0.8"/>
<path d="M461.30 187.47H463.30" stroke="#555" stroke-width="0.8"/>
<text class="t" transform="translate(464.60 189.52) scale(1 1.04)" font-size="6.2">80</text>
<path d="M461.30 180.85H462.50" stroke="#555" stroke-width="0.8"/>
<path d="M461.30 174.23H463.30" stroke="#555" stroke-width="0.8"/>
<text class="t" transform="translate(464.60 176.28) scale(1 1.04)" font-size="6.2">100</text>
<path d="M461.30 167.62H462.50" stroke="#555" stroke-width="0.8"/>
<path d="M461.30 161.00H463.30" stroke="#555" stroke-width="0.8"/>
<text class="t" transform="translate(464.60 163.05) scale(1 1.04)" font-size="6.2">120</text>
<path d="M461.30 154.38H462.50" stroke="#555" stroke-width="0.8"/>
<path d="M461.30 147.77H463.30" stroke="#555" stroke-width="0.8"/>
<text class="t" transform="translate(464.60 149.82) scale(1 1.04)" font-size="6.2">140</text>
<path d="M461.30 141.15H462.50" stroke="#555" stroke-width="0.8"/>
<path d="M350.10 240.40V242.00" stroke="#555" stroke-width="0.6"/>
<path d="M374.80 240.40V242.00" stroke="#555" stroke-width="0.6"/>
<path d="M399.50 240.40V242.00" stroke="#555" stroke-width="0.6"/>
<path d="M424.20 240.40V242.00" stroke="#555" stroke-width="0.6"/>
<path d="M448.90 240.40V242.00" stroke="#555" stroke-width="0.6"/>
<path d="M362.45 240.40V241.30" stroke="#555" stroke-width="0.5"/>
<path d="M387.15 240.40V241.30" stroke="#555" stroke-width="0.5"/>
<path d="M411.85 240.40V241.30" stroke="#555" stroke-width="0.5"/>
<path d="M436.55 240.40V241.30" stroke="#555" stroke-width="0.5"/>
<text class="t" transform="translate(350.10 248.60) scale(1 1.04)" font-size="5.9" text-anchor="middle">H71</text>
<text class="t" transform="translate(374.80 248.60) scale(1 1.04)" font-size="5.9" text-anchor="middle">L71</text>
<text class="t" transform="translate(424.20 248.60) scale(1 1.04)" font-size="5.9" text-anchor="middle">H284</text>
<text class="t" transform="translate(448.90 248.60) scale(1 1.04)" font-size="5.9" text-anchor="middle">L284</text>
<text class="g" transform="translate(401.05 257.60) scale(1 1.0)" font-size="6.1" text-anchor="middle">Os11g0229300</text>
<rect x="512.00" y="177.28" width="8.70" height="63.12" fill="#f99396" stroke="#b09090" stroke-width="0.4"/>
<rect x="503.30" y="206.16" width="8.70" height="34.24" fill="#b5e3f9" stroke="#8a9aa2" stroke-width="0.4"/>
<path d="M512.00 206.16V240.40" stroke="#6a7880" stroke-width="0.5"/>
<rect x="536.81" y="220.75" width="8.70" height="19.65" fill="#f99396" stroke="#b09090" stroke-width="0.4"/>
<rect x="528.11" y="224.27" width="8.70" height="16.13" fill="#b5e3f9" stroke="#8a9aa2" stroke-width="0.4"/>
<path d="M536.81 224.27V240.40" stroke="#6a7880" stroke-width="0.5"/>
<rect x="586.44" y="239.80" width="8.70" height="0.60" fill="#f99396" stroke="#b09090" stroke-width="0.4"/>
<rect x="577.74" y="233.20" width="8.70" height="7.20" fill="#b5e3f9" stroke="#8a9aa2" stroke-width="0.4"/>
<path d="M586.44 239.80V240.40" stroke="#6a7880" stroke-width="0.5"/>
<rect x="611.25" y="239.80" width="8.70" height="0.60" fill="#f99396" stroke="#b09090" stroke-width="0.4"/>
<rect x="602.55" y="234.69" width="8.70" height="5.71" fill="#b5e3f9" stroke="#8a9aa2" stroke-width="0.4"/>
<path d="M611.25 239.80V240.40" stroke="#6a7880" stroke-width="0.5"/>
<path d="M506.65 205.66H508.65M506.65 206.66H508.65M507.65 205.66V206.66" stroke="#333" stroke-width="0.6" fill="none"/>
<path d="M515.35 176.93H517.35M515.35 177.63H517.35M516.35 176.93V177.63" stroke="#333" stroke-width="0.6" fill="none"/>
<path d="M531.46 223.53H533.46M531.46 225.02H533.46M532.46 223.53V225.02" stroke="#333" stroke-width="0.6" fill="none"/>
<path d="M540.16 218.76H542.16M540.16 222.73H542.16M541.16 218.76V222.73" stroke="#333" stroke-width="0.6" fill="none"/>
<path d="M581.09 232.71H583.09M581.09 233.70H583.09M582.09 232.71V233.70" stroke="#333" stroke-width="0.6" fill="none"/>
<path d="M589.79 239.45H591.79M590.79 239.45V240.40" stroke="#333" stroke-width="0.6" fill="none"/>
<path d="M605.90 234.20H607.90M605.90 235.19H607.90M606.90 234.20V235.19" stroke="#333" stroke-width="0.6" fill="none"/>
<path d="M614.60 239.45H616.60M615.60 239.45V240.40" stroke="#333" stroke-width="0.6" fill="none"/>
<path d="M499.50 141.15V240.40" stroke="#555" stroke-width="0.75" fill="none"/>
<path d="M623.50 141.15V240.40" stroke="#555" stroke-width="0.75" fill="none"/>
<path d="M499.50 240.50H623.50" stroke="#a0a0a0" stroke-width="0.9" fill="none"/>
<path d="M497.50 240.40H499.50" stroke="#555" stroke-width="0.8"/>
<text class="t" transform="translate(496.40 242.45) scale(1 1.04)" font-size="6.2" text-anchor="end">0</text>
<path d="M498.30 215.59H499.50" stroke="#555" stroke-width="0.8"/>
<path d="M497.50 190.78H499.50" stroke="#555" stroke-width="0.8"/>
<text class="t" transform="translate(496.40 192.83) scale(1 1.04)" font-size="6.2" text-anchor="end">20</text>
<path d="M498.30 165.96H499.50" stroke="#555" stroke-width="0.8"/>
<path d="M497.50 141.15H499.50" stroke="#555" stroke-width="0.8"/>
<text class="t" transform="translate(496.40 143.20) scale(1 1.04)" font-size="6.2" text-anchor="end">40</text>
<path d="M623.50 240.40H625.50" stroke="#555" stroke-width="0.8"/>
<text class="t" transform="translate(626.80 242.45) scale(1 1.04)" font-size="6.2">0</text>
<path d="M623.50 230.47H624.70" stroke="#555" stroke-width="0.8"/>
<path d="M623.50 220.55H625.50" stroke="#555" stroke-width="0.8"/>
<text class="t" transform="translate(626.80 222.60) scale(1 1.04)" font-size="6.2">1</text>
<path d="M623.50 210.62H624.70" stroke="#555" stroke-width="0.8"/>
<path d="M623.50 200.70H625.50" stroke="#555" stroke-width="0.8"/>
<text class="t" transform="translate(626.80 202.75) scale(1 1.04)" font-size="6.2">2</text>
<path d="M623.50 190.78H624.70" stroke="#555" stroke-width="0.8"/>
<path d="M623.50 180.85H625.50" stroke="#555" stroke-width="0.8"/>
<text class="t" transform="translate(626.80 182.90) scale(1 1.04)" font-size="6.2">3</text>
<path d="M623.50 170.93H624.70" stroke="#555" stroke-width="0.8"/>
<path d="M623.50 161.00H625.50" stroke="#555" stroke-width="0.8"/>
<text class="t" transform="translate(626.80 163.05) scale(1 1.04)" font-size="6.2">4</text>
<path d="M623.50 151.07H624.70" stroke="#555" stroke-width="0.8"/>
<path d="M623.50 141.15H625.50" stroke="#555" stroke-width="0.8"/>
<text class="t" transform="translate(626.80 143.20) scale(1 1.04)" font-size="6.2">5</text>
<path d="M512.00 240.40V242.00" stroke="#555" stroke-width="0.6"/>
<path d="M536.81 240.40V242.00" stroke="#555" stroke-width="0.6"/>
<path d="M561.62 240.40V242.00" stroke="#555" stroke-width="0.6"/>
<path d="M586.44 240.40V242.00" stroke="#555" stroke-width="0.6"/>
<path d="M611.25 240.40V242.00" stroke="#555" stroke-width="0.6"/>
<path d="M524.41 240.40V241.30" stroke="#555" stroke-width="0.5"/>
<path d="M549.22 240.40V241.30" stroke="#555" stroke-width="0.5"/>
<path d="M574.03 240.40V241.30" stroke="#555" stroke-width="0.5"/>
<path d="M598.84 240.40V241.30" stroke="#555" stroke-width="0.5"/>
<text class="t" transform="translate(512.00 248.60) scale(1 1.04)" font-size="5.9" text-anchor="middle">H71</text>
<text class="t" transform="translate(536.81 248.60) scale(1 1.04)" font-size="5.9" text-anchor="middle">L71</text>
<text class="t" transform="translate(586.44 248.60) scale(1 1.04)" font-size="5.9" text-anchor="middle">H284</text>
<text class="t" transform="translate(611.25 248.60) scale(1 1.04)" font-size="5.9" text-anchor="middle">L284</text>
<text class="g" transform="translate(563.20 257.60) scale(1 1.0)" font-size="6.1" text-anchor="middle">Os07g0471300</text>
<rect x="25.25" y="312.89" width="8.70" height="60.31" fill="#f99396" stroke="#b09090" stroke-width="0.4"/>
<rect x="16.55" y="371.79" width="8.70" height="1.41" fill="#b5e3f9" stroke="#8a9aa2" stroke-width="0.4"/>
<path d="M25.25 371.79V373.20" stroke="#6a7880" stroke-width="0.5"/>
<rect x="49.94" y="289.94" width="8.70" height="83.26" fill="#f99396" stroke="#b09090" stroke-width="0.4"/>
<rect x="41.24" y="370.22" width="8.70" height="2.98" fill="#b5e3f9" stroke="#8a9aa2" stroke-width="0.4"/>
<path d="M49.94 370.22V373.20" stroke="#6a7880" stroke-width="0.5"/>
<rect x="99.31" y="371.91" width="8.70" height="1.29" fill="#f99396" stroke="#b09090" stroke-width="0.4"/>
<rect x="90.61" y="372.87" width="8.70" height="0.33" fill="#b5e3f9" stroke="#8a9aa2" stroke-width="0.4"/>
<path d="M99.31 372.87V373.20" stroke="#6a7880" stroke-width="0.5"/>
<rect x="124.00" y="358.79" width="8.70" height="14.41" fill="#f99396" stroke="#b09090" stroke-width="0.4"/>
<rect x="115.30" y="372.70" width="8.70" height="0.50" fill="#b5e3f9" stroke="#8a9aa2" stroke-width="0.4"/>
<path d="M124.00 372.70V373.20" stroke="#6a7880" stroke-width="0.5"/>
<path d="M19.90 371.30H21.90M19.90 372.29H21.90M20.90 371.30V372.29" stroke="#333" stroke-width="0.6" fill="none"/>
<path d="M28.60 312.30H30.60M28.60 313.49H30.60M29.60 312.30V313.49" stroke="#333" stroke-width="0.6" fill="none"/>
<path d="M44.59 369.23H46.59M44.59 371.21H46.59M45.59 369.23V371.21" stroke="#333" stroke-width="0.6" fill="none"/>
<path d="M53.29 289.35H55.29M53.29 290.54H55.29M54.29 289.35V290.54" stroke="#333" stroke-width="0.6" fill="none"/>
<path d="M93.96 372.52H95.96M94.96 372.52V373.20" stroke="#333" stroke-width="0.6" fill="none"/>
<path d="M102.66 371.41H104.66M102.66 372.41H104.66M103.66 371.41V372.41" stroke="#333" stroke-width="0.6" fill="none"/>
<path d="M118.65 372.35H120.65M119.65 372.35V373.20" stroke="#333" stroke-width="0.6" fill="none"/>
<path d="M127.35 358.00H129.35M127.35 359.59H129.35M128.35 358.00V359.59" stroke="#333" stroke-width="0.6" fill="none"/>
<path d="M12.30 273.85V373.20" stroke="#555" stroke-width="0.75" fill="none"/>
<path d="M136.40 273.85V373.20" stroke="#555" stroke-width="0.75" fill="none"/>
<path d="M12.30 373.30H136.40" stroke="#a0a0a0" stroke-width="0.9" fill="none"/>
<path d="M10.30 373.20H12.30" stroke="#555" stroke-width="0.8"/>
<text class="t" transform="translate(9.20 375.25) scale(1 1.04)" font-size="6.2" text-anchor="end">0</text>
<path d="M11.10 356.64H12.30" stroke="#555" stroke-width="0.8"/>
<path d="M10.30 340.08H12.30" stroke="#555" stroke-width="0.8"/>
<text class="t" transform="translate(9.20 342.13) scale(1 1.04)" font-size="6.2" text-anchor="end">20</text>
<path d="M11.10 323.52H12.30" stroke="#555" stroke-width="0.8"/>
<path d="M10.30 306.97H12.30" stroke="#555" stroke-width="0.8"/>
<text class="t" transform="translate(9.20 309.02) scale(1 1.04)" font-size="6.2" text-anchor="end">40</text>
<path d="M11.10 290.41H12.30" stroke="#555" stroke-width="0.8"/>
<path d="M10.30 273.85H12.30" stroke="#555" stroke-width="0.8"/>
<text class="t" transform="translate(9.20 275.90) scale(1 1.04)" font-size="6.2" text-anchor="end">60</text>
<path d="M136.40 373.20H138.40" stroke="#555" stroke-width="0.8"/>
<text class="t" transform="translate(139.70 375.25) scale(1 1.04)" font-size="6.2">0</text>
<path d="M136.40 363.26H137.60" stroke="#555" stroke-width="0.8"/>
<path d="M136.40 353.33H138.40" stroke="#555" stroke-width="0.8"/>
<text class="t" transform="translate(139.70 355.38) scale(1 1.04)" font-size="6.2">20</text>
<path d="M136.40 343.39H137.60" stroke="#555" stroke-width="0.8"/>
<path d="M136.40 333.46H138.40" stroke="#555" stroke-width="0.8"/>
<text class="t" transform="translate(139.70 335.51) scale(1 1.04)" font-size="6.2">40</text>
<path d="M136.40 323.52H137.60" stroke="#555" stroke-width="0.8"/>
<path d="M136.40 313.59H138.40" stroke="#555" stroke-width="0.8"/>
<text class="t" transform="translate(139.70 315.64) scale(1 1.04)" font-size="6.2">60</text>
<path d="M136.40 303.66H137.60" stroke="#555" stroke-width="0.8"/>
<path d="M136.40 293.72H138.40" stroke="#555" stroke-width="0.8"/>
<text class="t" transform="translate(139.70 295.77) scale(1 1.04)" font-size="6.2">80</text>
<path d="M136.40 283.79H137.60" stroke="#555" stroke-width="0.8"/>
<path d="M136.40 273.85H138.40" stroke="#555" stroke-width="0.8"/>
<text class="t" transform="translate(139.70 275.90) scale(1 1.04)" font-size="6.2">100</text>
<path d="M25.25 373.20V374.80" stroke="#555" stroke-width="0.6"/>
<path d="M49.94 373.20V374.80" stroke="#555" stroke-width="0.6"/>
<path d="M74.62 373.20V374.80" stroke="#555" stroke-width="0.6"/>
<path d="M99.31 373.20V374.80" stroke="#555" stroke-width="0.6"/>
<path d="M124.00 373.20V374.80" stroke="#555" stroke-width="0.6"/>
<path d="M37.59 373.20V374.10" stroke="#555" stroke-width="0.5"/>
<path d="M62.28 373.20V374.10" stroke="#555" stroke-width="0.5"/>
<path d="M86.97 373.20V374.10" stroke="#555" stroke-width="0.5"/>
<path d="M111.66 373.20V374.10" stroke="#555" stroke-width="0.5"/>
<text class="t" transform="translate(25.25 381.40) scale(1 1.04)" font-size="5.9" text-anchor="middle">H71</text>
<text class="t" transform="translate(49.94 381.40) scale(1 1.04)" font-size="5.9" text-anchor="middle">L71</text>
<text class="t" transform="translate(99.31 381.40) scale(1 1.04)" font-size="5.9" text-anchor="middle">H284</text>
<text class="t" transform="translate(124.00 381.40) scale(1 1.04)" font-size="5.9" text-anchor="middle">L284</text>
<text class="g" transform="translate(76.05 390.40) scale(1 1.0)" font-size="6.1" text-anchor="middle">Os12g0257600</text>
<rect x="188.75" y="346.87" width="8.70" height="26.33" fill="#f99396" stroke="#b09090" stroke-width="0.4"/>
<rect x="180.05" y="323.19" width="8.70" height="50.01" fill="#b5e3f9" stroke="#8a9aa2" stroke-width="0.4"/>
<path d="M188.75 346.87V373.20" stroke="#6a7880" stroke-width="0.5"/>
<rect x="213.38" y="365.09" width="8.70" height="8.11" fill="#f99396" stroke="#b09090" stroke-width="0.4"/>
<rect x="204.68" y="370.05" width="8.70" height="3.15" fill="#b5e3f9" stroke="#8a9aa2" stroke-width="0.4"/>
<path d="M213.38 370.05V373.20" stroke="#6a7880" stroke-width="0.5"/>
<rect x="262.62" y="371.38" width="8.70" height="1.82" fill="#f99396" stroke="#b09090" stroke-width="0.4"/>
<rect x="253.93" y="369.89" width="8.70" height="3.31" fill="#b5e3f9" stroke="#8a9aa2" stroke-width="0.4"/>
<path d="M262.62 371.38V373.20" stroke="#6a7880" stroke-width="0.5"/>
<rect x="287.25" y="372.37" width="8.70" height="0.83" fill="#f99396" stroke="#b09090" stroke-width="0.4"/>
<rect x="278.55" y="371.05" width="8.70" height="2.15" fill="#b5e3f9" stroke="#8a9aa2" stroke-width="0.4"/>
<path d="M287.25 372.37V373.20" stroke="#6a7880" stroke-width="0.5"/>
<path d="M183.40 322.70H185.40M183.40 323.69H185.40M184.40 322.70V323.69" stroke="#333" stroke-width="0.6" fill="none"/>
<path d="M192.10 344.89H194.10M192.10 348.86H194.10M193.10 344.89V348.86" stroke="#333" stroke-width="0.6" fill="none"/>
<path d="M208.03 369.23H210.03M208.03 370.88H210.03M209.03 369.23V370.88" stroke="#333" stroke-width="0.6" fill="none"/>
<path d="M216.72 363.43H218.72M216.72 366.74H218.72M217.72 363.43V366.74" stroke="#333" stroke-width="0.6" fill="none"/>
<path d="M257.27 369.06H259.27M257.27 370.72H259.27M258.27 369.06V370.72" stroke="#333" stroke-width="0.6" fill="none"/>
<path d="M265.98 369.89H267.98M265.98 372.87H267.98M266.98 369.89V372.87" stroke="#333" stroke-width="0.6" fill="none"/>
<path d="M281.90 370.39H283.90M281.90 371.71H283.90M282.90 370.39V371.71" stroke="#333" stroke-width="0.6" fill="none"/>
<path d="M290.60 370.72H292.60M291.60 370.72V373.20" stroke="#333" stroke-width="0.6" fill="none"/>
<path d="M176.40 273.85V373.20" stroke="#555" stroke-width="0.75" fill="none"/>
<path d="M299.50 273.85V373.20" stroke="#555" stroke-width="0.75" fill="none"/>
<path d="M176.40 373.30H299.50" stroke="#a0a0a0" stroke-width="0.9" fill="none"/>
<path d="M174.40 373.20H176.40" stroke="#555" stroke-width="0.8"/>
<text class="t" transform="translate(173.30 375.25) scale(1 1.04)" font-size="6.2" text-anchor="end">0</text>
<path d="M175.20 356.64H176.40" stroke="#555" stroke-width="0.8"/>
<path d="M174.40 340.08H176.40" stroke="#555" stroke-width="0.8"/>
<text class="t" transform="translate(173.30 342.13) scale(1 1.04)" font-size="6.2" text-anchor="end">20</text>
<path d="M175.20 323.52H176.40" stroke="#555" stroke-width="0.8"/>
<path d="M174.40 306.97H176.40" stroke="#555" stroke-width="0.8"/>
<text class="t" transform="translate(173.30 309.02) scale(1 1.04)" font-size="6.2" text-anchor="end">40</text>
<path d="M175.20 290.41H176.40" stroke="#555" stroke-width="0.8"/>
<path d="M174.40 273.85H176.40" stroke="#555" stroke-width="0.8"/>
<text class="t" transform="translate(173.30 275.90) scale(1 1.04)" font-size="6.2" text-anchor="end">60</text>
<path d="M299.50 373.20H301.50" stroke="#555" stroke-width="0.8"/>
<text class="t" transform="translate(302.80 375.25) scale(1 1.04)" font-size="6.2">0</text>
<path d="M299.50 356.64H300.70" stroke="#555" stroke-width="0.8"/>
<path d="M299.50 340.08H301.50" stroke="#555" stroke-width="0.8"/>
<text class="t" transform="translate(302.80 342.13) scale(1 1.04)" font-size="6.2">20</text>
<path d="M299.50 323.52H300.70" stroke="#555" stroke-width="0.8"/>
<path d="M299.50 306.97H301.50" stroke="#555" stroke-width="0.8"/>
<text class="t" transform="translate(302.80 309.02) scale(1 1.04)" font-size="6.2">40</text>
<path d="M299.50 290.41H300.70" stroke="#555" stroke-width="0.8"/>
<path d="M299.50 273.85H301.50" stroke="#555" stroke-width="0.8"/>
<text class="t" transform="translate(302.80 275.90) scale(1 1.04)" font-size="6.2">60</text>
<path d="M188.75 373.20V374.80" stroke="#555" stroke-width="0.6"/>
<path d="M213.38 373.20V374.80" stroke="#555" stroke-width="0.6"/>
<path d="M238.00 373.20V374.80" stroke="#555" stroke-width="0.6"/>
<path d="M262.62 373.20V374.80" stroke="#555" stroke-width="0.6"/>
<path d="M287.25 373.20V374.80" stroke="#555" stroke-width="0.6"/>
<path d="M201.06 373.20V374.10" stroke="#555" stroke-width="0.5"/>
<path d="M225.69 373.20V374.10" stroke="#555" stroke-width="0.5"/>
<path d="M250.31 373.20V374.10" stroke="#555" stroke-width="0.5"/>
<path d="M274.94 373.20V374.10" stroke="#555" stroke-width="0.5"/>
<text class="t" transform="translate(188.75 381.40) scale(1 1.04)" font-size="5.9" text-anchor="middle">H71</text>
<text class="t" transform="translate(213.38 381.40) scale(1 1.04)" font-size="5.9" text-anchor="middle">L71</text>
<text class="t" transform="translate(262.62 381.40) scale(1 1.04)" font-size="5.9" text-anchor="middle">H284</text>
<text class="t" transform="translate(287.25 381.40) scale(1 1.04)" font-size="5.9" text-anchor="middle">L284</text>
<text class="g" transform="translate(239.65 390.40) scale(1 1.0)" font-size="6.1" text-anchor="middle">Os08g0138100</text>
<rect x="350.00" y="293.22" width="8.70" height="79.98" fill="#f99396" stroke="#b09090" stroke-width="0.4"/>
<rect x="341.30" y="321.04" width="8.70" height="52.16" fill="#b5e3f9" stroke="#8a9aa2" stroke-width="0.4"/>
<path d="M350.00 321.04V373.20" stroke="#6a7880" stroke-width="0.5"/>
<rect x="374.75" y="346.38" width="8.70" height="26.82" fill="#f99396" stroke="#b09090" stroke-width="0.4"/>
<rect x="366.05" y="354.32" width="8.70" height="18.88" fill="#b5e3f9" stroke="#8a9aa2" stroke-width="0.4"/>
<path d="M374.75 354.32V373.20" stroke="#6a7880" stroke-width="0.5"/>
<rect x="424.25" y="366.25" width="8.70" height="6.95" fill="#f99396" stroke="#b09090" stroke-width="0.4"/>
<rect x="415.55" y="357.30" width="8.70" height="15.90" fill="#b5e3f9" stroke="#8a9aa2" stroke-width="0.4"/>
<path d="M424.25 366.25V373.20" stroke="#6a7880" stroke-width="0.5"/>
<rect x="449.00" y="366.08" width="8.70" height="7.12" fill="#f99396" stroke="#b09090" stroke-width="0.4"/>
<rect x="440.30" y="354.32" width="8.70" height="18.88" fill="#b5e3f9" stroke="#8a9aa2" stroke-width="0.4"/>
<path d="M449.00 366.08V373.20" stroke="#6a7880" stroke-width="0.5"/>
<path d="M344.65 320.38H346.65M344.65 321.70H346.65M345.65 320.38V321.70" stroke="#333" stroke-width="0.6" fill="none"/>
<path d="M353.35 292.56H355.35M353.35 293.89H355.35M354.35 292.56V293.89" stroke="#333" stroke-width="0.6" fill="none"/>
<path d="M369.40 353.33H371.40M369.40 355.32H371.40M370.40 353.33V355.32" stroke="#333" stroke-width="0.6" fill="none"/>
<path d="M378.10 345.38H380.10M378.10 347.37H380.10M379.10 345.38V347.37" stroke="#333" stroke-width="0.6" fill="none"/>
<path d="M418.90 356.31H420.90M418.90 358.30H420.90M419.90 356.31V358.30" stroke="#333" stroke-width="0.6" fill="none"/>
<path d="M427.60 365.25H429.60M427.60 367.24H429.60M428.60 365.25V367.24" stroke="#333" stroke-width="0.6" fill="none"/>
<path d="M443.65 353.83H445.65M443.65 354.82H445.65M444.65 353.83V354.82" stroke="#333" stroke-width="0.6" fill="none"/>
<path d="M452.35 364.42H454.35M452.35 367.74H454.35M453.35 364.42V367.74" stroke="#333" stroke-width="0.6" fill="none"/>
<path d="M337.45 273.85V373.20" stroke="#555" stroke-width="0.75" fill="none"/>
<path d="M461.20 273.85V373.20" stroke="#555" stroke-width="0.75" fill="none"/>
<path d="M337.45 373.30H461.20" stroke="#a0a0a0" stroke-width="0.9" fill="none"/>
<path d="M335.45 373.20H337.45" stroke="#555" stroke-width="0.8"/>
<text class="t" transform="translate(334.35 375.25) scale(1 1.04)" font-size="6.2" text-anchor="end">0</text>
<path d="M336.25 356.64H337.45" stroke="#555" stroke-width="0.8"/>
<path d="M335.45 340.08H337.45" stroke="#555" stroke-width="0.8"/>
<text class="t" transform="translate(334.35 342.13) scale(1 1.04)" font-size="6.2" text-anchor="end">20</text>
<path d="M336.25 323.52H337.45" stroke="#555" stroke-width="0.8"/>
<path d="M335.45 306.97H337.45" stroke="#555" stroke-width="0.8"/>
<text class="t" transform="translate(334.35 309.02) scale(1 1.04)" font-size="6.2" text-anchor="end">40</text>
<path d="M336.25 290.41H337.45" stroke="#555" stroke-width="0.8"/>
<path d="M335.45 273.85H337.45" stroke="#555" stroke-width="0.8"/>
<text class="t" transform="translate(334.35 275.90) scale(1 1.04)" font-size="6.2" text-anchor="end">60</text>
<path d="M461.20 373.20H463.20" stroke="#555" stroke-width="0.8"/>
<text class="t" transform="translate(464.50 375.25) scale(1 1.04)" font-size="6.2">0</text>
<path d="M461.20 356.64H462.40" stroke="#555" stroke-width="0.8"/>
<path d="M461.20 340.08H463.20" stroke="#555" stroke-width="0.8"/>
<text class="t" transform="translate(464.50 342.13) scale(1 1.04)" font-size="6.2">20</text>
<path d="M461.20 323.52H462.40" stroke="#555" stroke-width="0.8"/>
<path d="M461.20 306.97H463.20" stroke="#555" stroke-width="0.8"/>
<text class="t" transform="translate(464.50 309.02) scale(1 1.04)" font-size="6.2">40</text>
<path d="M461.20 290.41H462.40" stroke="#555" stroke-width="0.8"/>
<path d="M461.20 273.85H463.20" stroke="#555" stroke-width="0.8"/>
<text class="t" transform="translate(464.50 275.90) scale(1 1.04)" font-size="6.2">60</text>
<path d="M350.00 373.20V374.80" stroke="#555" stroke-width="0.6"/>
<path d="M374.75 373.20V374.80" stroke="#555" stroke-width="0.6"/>
<path d="M399.50 373.20V374.80" stroke="#555" stroke-width="0.6"/>
<path d="M424.25 373.20V374.80" stroke="#555" stroke-width="0.6"/>
<path d="M449.00 373.20V374.80" stroke="#555" stroke-width="0.6"/>
<path d="M362.38 373.20V374.10" stroke="#555" stroke-width="0.5"/>
<path d="M387.12 373.20V374.10" stroke="#555" stroke-width="0.5"/>
<path d="M411.88 373.20V374.10" stroke="#555" stroke-width="0.5"/>
<path d="M436.62 373.20V374.10" stroke="#555" stroke-width="0.5"/>
<text class="t" transform="translate(350.00 381.40) scale(1 1.04)" font-size="5.9" text-anchor="middle">H71</text>
<text class="t" transform="translate(374.75 381.40) scale(1 1.04)" font-size="5.9" text-anchor="middle">L71</text>
<text class="t" transform="translate(424.25 381.40) scale(1 1.04)" font-size="5.9" text-anchor="middle">H284</text>
<text class="t" transform="translate(449.00 381.40) scale(1 1.04)" font-size="5.9" text-anchor="middle">L284</text>
<text class="g" transform="translate(401.02 390.40) scale(1 1.0)" font-size="6.1" text-anchor="middle">Os11g0229400</text>
<rect x="512.30" y="355.32" width="8.70" height="17.88" fill="#f99396" stroke="#b09090" stroke-width="0.4"/>
<rect x="503.60" y="291.48" width="8.70" height="81.72" fill="#b5e3f9" stroke="#8a9aa2" stroke-width="0.4"/>
<path d="M512.30 355.32V373.20" stroke="#6a7880" stroke-width="0.5"/>
<rect x="537.00" y="364.85" width="8.70" height="8.35" fill="#f99396" stroke="#b09090" stroke-width="0.4"/>
<rect x="528.30" y="347.12" width="8.70" height="26.08" fill="#b5e3f9" stroke="#8a9aa2" stroke-width="0.4"/>
<path d="M537.00 364.85V373.20" stroke="#6a7880" stroke-width="0.5"/>
<rect x="586.40" y="357.30" width="8.70" height="15.90" fill="#f99396" stroke="#b09090" stroke-width="0.4"/>
<rect x="577.70" y="359.29" width="8.70" height="13.91" fill="#b5e3f9" stroke="#8a9aa2" stroke-width="0.4"/>
<path d="M586.40 359.29V373.20" stroke="#6a7880" stroke-width="0.5"/>
<rect x="611.10" y="372.21" width="8.70" height="0.99" fill="#f99396" stroke="#b09090" stroke-width="0.4"/>
<rect x="602.40" y="363.26" width="8.70" height="9.94" fill="#b5e3f9" stroke="#8a9aa2" stroke-width="0.4"/>
<path d="M611.10 372.21V373.20" stroke="#6a7880" stroke-width="0.5"/>
<path d="M506.95 289.00H508.95M506.95 293.97H508.95M507.95 289.00V293.97" stroke="#333" stroke-width="0.6" fill="none"/>
<path d="M515.65 354.79H517.65M515.65 355.85H517.65M516.65 354.79V355.85" stroke="#333" stroke-width="0.6" fill="none"/>
<path d="M531.65 345.63H533.65M531.65 348.61H533.65M532.65 345.63V348.61" stroke="#333" stroke-width="0.6" fill="none"/>
<path d="M540.35 364.06H542.35M540.35 365.65H542.35M541.35 364.06V365.65" stroke="#333" stroke-width="0.6" fill="none"/>
<path d="M581.05 357.30H583.05M581.05 361.28H583.05M582.05 357.30V361.28" stroke="#333" stroke-width="0.6" fill="none"/>
<path d="M589.75 356.24H591.75M589.75 358.36H591.75M590.75 356.24V358.36" stroke="#333" stroke-width="0.6" fill="none"/>
<path d="M605.75 361.53H607.75M605.75 365.00H607.75M606.75 361.53V365.00" stroke="#333" stroke-width="0.6" fill="none"/>
<path d="M614.45 371.68H616.45M614.45 372.74H616.45M615.45 371.68V372.74" stroke="#333" stroke-width="0.6" fill="none"/>
<path d="M500.10 273.85V373.20" stroke="#555" stroke-width="0.75" fill="none"/>
<path d="M623.50 273.85V373.20" stroke="#555" stroke-width="0.75" fill="none"/>
<path d="M500.10 373.30H623.50" stroke="#a0a0a0" stroke-width="0.9" fill="none"/>
<path d="M498.10 373.20H500.10" stroke="#555" stroke-width="0.8"/>
<text class="t" transform="translate(497.00 375.25) scale(1 1.04)" font-size="6.2" text-anchor="end">0</text>
<path d="M498.90 348.36H500.10" stroke="#555" stroke-width="0.8"/>
<path d="M498.10 323.52H500.10" stroke="#555" stroke-width="0.8"/>
<text class="t" transform="translate(497.00 325.57) scale(1 1.04)" font-size="6.2" text-anchor="end">20</text>
<path d="M498.90 298.69H500.10" stroke="#555" stroke-width="0.8"/>
<path d="M498.10 273.85H500.10" stroke="#555" stroke-width="0.8"/>
<text class="t" transform="translate(497.00 275.90) scale(1 1.04)" font-size="6.2" text-anchor="end">40</text>
<path d="M623.50 373.20H625.50" stroke="#555" stroke-width="0.8"/>
<text class="t" transform="translate(626.80 375.25) scale(1 1.04)" font-size="6.2">0</text>
<path d="M623.50 366.58H624.70" stroke="#555" stroke-width="0.8"/>
<path d="M623.50 359.95H625.50" stroke="#555" stroke-width="0.8"/>
<text class="t" transform="translate(626.80 362.00) scale(1 1.04)" font-size="6.2">20</text>
<path d="M623.50 353.33H624.70" stroke="#555" stroke-width="0.8"/>
<path d="M623.50 346.71H625.50" stroke="#555" stroke-width="0.8"/>
<text class="t" transform="translate(626.80 348.76) scale(1 1.04)" font-size="6.2">40</text>
<path d="M623.50 340.08H624.70" stroke="#555" stroke-width="0.8"/>
<path d="M623.50 333.46H625.50" stroke="#555" stroke-width="0.8"/>
<text class="t" transform="translate(626.80 335.51) scale(1 1.04)" font-size="6.2">60</text>
<path d="M623.50 326.84H624.70" stroke="#555" stroke-width="0.8"/>
<path d="M623.50 320.21H625.50" stroke="#555" stroke-width="0.8"/>
<text class="t" transform="translate(626.80 322.26) scale(1 1.04)" font-size="6.2">80</text>
<path d="M623.50 313.59H624.70" stroke="#555" stroke-width="0.8"/>
<path d="M623.50 306.97H625.50" stroke="#555" stroke-width="0.8"/>
<text class="t" transform="translate(626.80 309.02) scale(1 1.04)" font-size="6.2">100</text>
<path d="M623.50 300.34H624.70" stroke="#555" stroke-width="0.8"/>
<path d="M623.50 293.72H625.50" stroke="#555" stroke-width="0.8"/>
<text class="t" transform="translate(626.80 295.77) scale(1 1.04)" font-size="6.2">120</text>
<path d="M623.50 287.10H624.70" stroke="#555" stroke-width="0.8"/>
<path d="M623.50 280.47H625.50" stroke="#555" stroke-width="0.8"/>
<text class="t" transform="translate(626.80 282.52) scale(1 1.04)" font-size="6.2">140</text>
<path d="M623.50 273.85H624.70" stroke="#555" stroke-width="0.8"/>
<path d="M512.30 373.20V374.80" stroke="#555" stroke-width="0.6"/>
<path d="M537.00 373.20V374.80" stroke="#555" stroke-width="0.6"/>
<path d="M561.70 373.20V374.80" stroke="#555" stroke-width="0.6"/>
<path d="M586.40 373.20V374.80" stroke="#555" stroke-width="0.6"/>
<path d="M611.10 373.20V374.80" stroke="#555" stroke-width="0.6"/>
<path d="M524.65 373.20V374.10" stroke="#555" stroke-width="0.5"/>
<path d="M549.35 373.20V374.10" stroke="#555" stroke-width="0.5"/>
<path d="M574.05 373.20V374.10" stroke="#555" stroke-width="0.5"/>
<path d="M598.75 373.20V374.10" stroke="#555" stroke-width="0.5"/>
<text class="t" transform="translate(512.30 381.40) scale(1 1.04)" font-size="5.9" text-anchor="middle">H71</text>
<text class="t" transform="translate(537.00 381.40) scale(1 1.04)" font-size="5.9" text-anchor="middle">L71</text>
<text class="t" transform="translate(586.40 381.40) scale(1 1.04)" font-size="5.9" text-anchor="middle">H284</text>
<text class="t" transform="translate(611.10 381.40) scale(1 1.04)" font-size="5.9" text-anchor="middle">L284</text>
<text class="g" transform="translate(563.50 390.40) scale(1 1.0)" font-size="6.1" text-anchor="middle">Os11g0618300</text>
<rect x="645.3" y="0.35" width="39.0" height="15.15" fill="#fff" stroke="#b0b0b0" stroke-width="0.7"/>
<rect x="645.75" y="1.6" width="9.0" height="4.95" fill="#b5e3f9" stroke="#8a9aa2" stroke-width="0.4"/>
<rect x="645.75" y="9.2" width="9.0" height="4.7" fill="#f99396" stroke="#b09090" stroke-width="0.4"/>
<text class="lg" transform="translate(656.80 5.75) scale(1 1.05)" font-size="5.95">RNA-Seq</text>
<text class="lg" transform="translate(657.00 13.55) scale(1 1.05)" font-size="6.2">qRT-PCR</text>
</svg>
</body></html>
